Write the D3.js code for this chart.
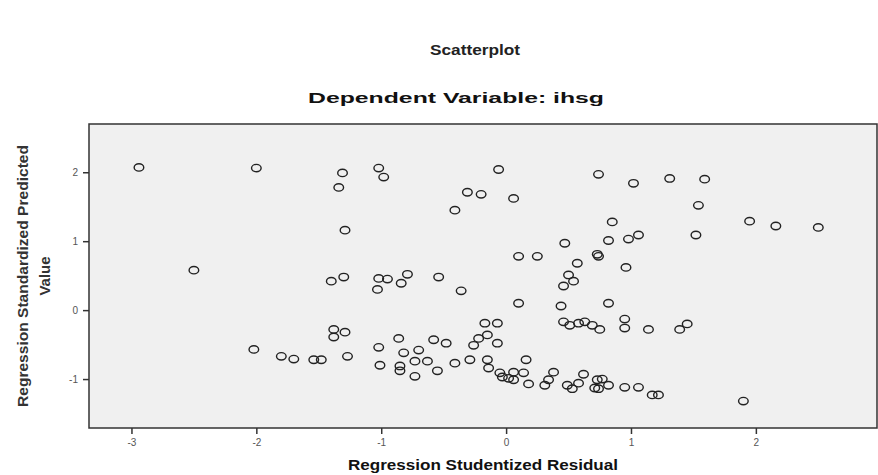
<!DOCTYPE html>
<html lang="en">
<head>
  <meta charset="UTF-8" />
  <title>Scatterplot</title>
  <style>
    body, html { margin: 0; padding: 0; background: #fff; }
    svg { display: block; }
    .tick text { font-family: "Liberation Sans", Arial, sans-serif; font-size: 10px; fill: #555; }
  </style>
</head>
<body>
  <svg id="chart" width="878" height="475"></svg>

  <script src="https://d3js.org/d3.v7.min.js"></script>
  <script>
    // Residuals (x) and standardized predicted values (y)
    const residual = [
      -2.94, -2.00, -1.31, -1.34, -1.29, -1.02, -0.98, -0.06, -0.31, -0.20,
       0.06, -0.41,  0.74,  1.02,  1.31,  1.59,  1.54,  0.85,  0.82,  0.98,
       1.06,  1.52,  1.95,  2.16,  2.50,  0.47,  0.10,  0.25,  0.73,  0.74,
       0.57,  0.50,  0.54,  0.46,  0.96, -2.50, -1.30, -1.40, -1.02, -0.95,
      -0.79, -0.84, -1.03, -0.54, -0.36,  0.10,  0.44,  0.82, -1.38, -1.29,
      -1.38, -2.02, -1.80, -1.70, -1.54, -1.48, -1.27, -1.02, -1.01, -0.86,
      -0.82, -0.70, -0.85, -0.85, -0.73, -0.63, -0.73, -0.58, -0.48, -0.55,
      -0.41, -0.29, -0.17, -0.07, -0.15, -0.22, -0.26, -0.07, -0.15, -0.14,
       0.16, -0.05, -0.03,  0.06,  0.06,  0.14,  0.18,  0.38,  0.34,  0.31,
       0.49,  0.53,  0.58,  0.62,  0.73,  0.71,  0.46,  0.51,  0.58,  0.63,
       0.69,  0.75,  0.95,  0.95,  1.14,  1.39,  1.45,  0.77,  0.82,  0.74,
       0.95,  1.06,  1.17,  1.22,  1.90,  0.02
    ];
    const predicted = [
       2.07,  2.06,  1.99,  1.78,  1.16,  2.06,  1.93,  2.04,  1.71,  1.68,
       1.62,  1.45,  1.97,  1.84,  1.91,  1.90,  1.52,  1.28,  1.01,  1.03,
       1.09,  1.09,  1.29,  1.22,  1.20,  0.97,  0.78,  0.78,  0.81,  0.78,
       0.68,  0.51,  0.42,  0.35,  0.62,  0.58,  0.48,  0.42,  0.46,  0.45,
       0.52,  0.39,  0.30,  0.48,  0.28,  0.10,  0.06,  0.10, -0.28, -0.32,
      -0.39, -0.57, -0.67, -0.71, -0.72, -0.72, -0.67, -0.54, -0.80, -0.41,
      -0.62, -0.58, -0.81, -0.88, -0.74, -0.74, -0.96, -0.43, -0.48, -0.88,
      -0.77, -0.72, -0.19, -0.19, -0.36, -0.41, -0.51, -0.48, -0.72, -0.84,
      -0.72, -0.91, -0.97, -0.90, -1.01, -0.91, -1.07, -0.90, -1.01, -1.09,
      -1.09, -1.14, -1.06, -0.93, -1.01, -1.13, -0.17, -0.22, -0.19, -0.17,
      -0.22, -0.28, -0.13, -0.26, -0.28, -0.28, -0.20, -1.00, -1.09, -1.14,
      -1.12, -1.12, -1.23, -1.23, -1.32, -0.99
    ];
    const xTicks = [-3, -2, -1, 0, 1, 2];
    const yTicks = [-1, 0, 1, 2];

    const svg = d3.select('#chart');
    const plot = { left: 89, right: 877, top: 124, bottom: 428 };

    // Scales: x from -3.34 to 2.97, y from -1.71 to 2.70
    const x = d3.scaleLinear().domain([-3.34, 2.97]).range([plot.left, plot.right]);
    const y = d3.scaleLinear().domain([-1.71, 2.70]).range([plot.bottom, plot.top]);

    // Titles
    svg.append('text')
      .attr('x', 475).attr('y', 55)
      .attr('text-anchor', 'middle')
      .attr('textLength', 90).attr('lengthAdjust', 'spacingAndGlyphs')
      .style('font-family', '"Liberation Sans", Arial, sans-serif')
      .style('font-weight', 'bold').style('font-size', '14px').style('fill', '#222')
      .text('Scatterplot');

    svg.append('text')
      .attr('x', 456).attr('y', 103)
      .attr('text-anchor', 'middle')
      .attr('textLength', 296).attr('lengthAdjust', 'spacingAndGlyphs')
      .style('font-family', '"Liberation Sans", Arial, sans-serif')
      .style('font-weight', 'bold').style('font-size', '15px').style('fill', '#111')
      .text('Dependent Variable: ihsg');

    // Plot background
    svg.append('rect')
      .attr('x', plot.left).attr('y', plot.top)
      .attr('width', plot.right - plot.left).attr('height', plot.bottom - plot.top)
      .attr('fill', '#f0f0f0')
      .attr('stroke', '#333').attr('stroke-width', 1.5);

    // Axes, plain integer labels with ascii minus like the original
    const fmt = d => String(d);
    const xAxis = svg.append('g')
      .attr('transform', `translate(0,${plot.bottom})`)
      .call(d3.axisBottom(x).tickValues(xTicks).tickFormat(fmt).tickSize(6).tickPadding(5));
    const yAxis = svg.append('g')
      .attr('transform', `translate(${plot.left},0)`)
      .call(d3.axisLeft(y).tickValues(yTicks).tickFormat(fmt).tickSize(6).tickPadding(5));
    [xAxis, yAxis].forEach(g => {
      g.select('.domain').remove();
      g.selectAll('.tick line').attr('stroke', '#333').attr('stroke-width', 1.5);
    });

    // Axis labels
    svg.append('text')
      .attr('x', 483).attr('y', 470)
      .attr('text-anchor', 'middle')
      .attr('textLength', 270).attr('lengthAdjust', 'spacingAndGlyphs')
      .style('font-family', '"Liberation Sans", Arial, sans-serif')
      .style('font-weight', 'bold').style('font-size', '15px').style('fill', '#111')
      .text('Regression Studentized Residual');

    const yLabel = svg.append('text')
      .attr('transform', 'translate(0,276) rotate(-90)')
      .attr('text-anchor', 'middle')
      .style('font-family', '"Liberation Sans Narrow", "Arial Narrow", "Liberation Sans", sans-serif')
      .style('font-weight', 'bold').style('font-size', '15px').style('fill', '#333');
    yLabel.append('tspan').attr('x', 0).attr('y', 28)
      .attr('textLength', 262).attr('lengthAdjust', 'spacingAndGlyphs')
      .text('Regression Standardized Predicted');
    yLabel.append('tspan').attr('x', 0).attr('y', 50)
      .text('Value');

    // Points
    const points = residual.map((r, i) => ({ r, p: predicted[i] }));
    svg.append('g')
      .selectAll('ellipse')
      .data(points)
      .join('ellipse')
      .attr('cx', d => x(d.r))
      .attr('cy', d => y(d.p))
      .attr('rx', 4.8).attr('ry', 3.7)
      .attr('fill', 'none')
      .attr('stroke', '#222')
      .attr('stroke-width', 1.4);
  </script>
</body>
</html>
